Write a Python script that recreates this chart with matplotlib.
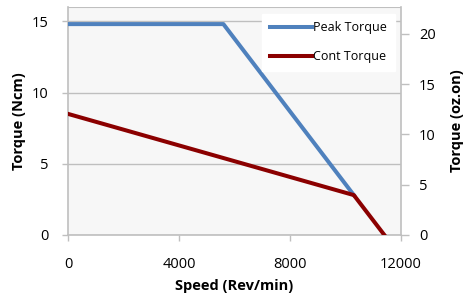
import matplotlib
matplotlib.use('Agg')
from matplotlib import pyplot as plt

# data
peak_speed = [0, 5600, 10300]
peak_torque = [14.8, 14.8, 2.8]
cont_speed = [0, 10300, 11400]
cont_torque = [8.5, 2.8, 0]
x_ticks = [0, 4000, 8000, 12000]
y_ticks = [0, 5, 10, 15]
oz_ticks = [0, 5, 10, 15, 20]
NCM_TO_OZIN = 1.416

plt.rcParams['font.family'] = ['Open Sans', 'DejaVu Sans']
grid_col = '#BFBFBF'

fig = plt.figure(figsize=(4.67, 2.93), dpi=100)
ax = fig.add_axes([68/467, 1-235/293, (401-68)/467, (235-7)/293])
ax.set_facecolor('#F7F7F7')

ax.plot(peak_speed, peak_torque, color='#4F81BD', lw=2.9, label='Peak Torque', zorder=3)
ax.plot(cont_speed, cont_torque, color='#8B0000', lw=2.9, label='Cont Torque', zorder=3)

ax.set_xlim(0, 12000)
ax.set_ylim(0, 16)
ax.set_xticks(x_ticks)
ax.set_yticks(y_ticks)
ax.grid(axis='y', color=grid_col, lw=1)
ax.axhline(16, color=grid_col, lw=1.5)
ax.set_axisbelow(True)
for s in ['left', 'right', 'bottom']:
    ax.spines[s].set_color(grid_col)
    ax.spines[s].set_linewidth(1.2)
ax.spines['top'].set_visible(False)
ax.tick_params(axis='both', colors=grid_col, labelcolor='black', labelsize=10.5, length=4, width=1)
ax.tick_params(axis='x', pad=12)
ax.tick_params(axis='y', pad=10)

ax.set_xlabel('Speed (Rev/min)', fontweight='bold', fontsize=10.5, labelpad=5)
ax.set_ylabel('Torque (Ncm)', fontweight='bold', fontsize=10.5, labelpad=4)

ax2 = ax.twinx()
ax2.set_ylim(0, 16 * NCM_TO_OZIN)
ax2.set_yticks(oz_ticks)
for s in ['left', 'right', 'bottom', 'top']:
    ax2.spines[s].set_visible(False)
ax2.tick_params(axis='y', colors=grid_col, labelcolor='black', labelsize=10.5, length=6, width=1, pad=7)
ax2.set_ylabel('Torque (oz.on)', fontweight='bold', fontsize=10.5, labelpad=10)

leg = ax.legend(loc='upper right', frameon=True, fontsize=9, handlelength=3.4,
                handletextpad=0.1, labelspacing=1.25, borderaxespad=0.3,
                bbox_to_anchor=(0.985, 0.975))
leg.get_frame().set_facecolor('white')
leg.get_frame().set_edgecolor('white')
leg.get_frame().set_alpha(1)
leg.get_frame().set_boxstyle('square', pad=0.2)

fig.savefig('out.png', dpi=100)
